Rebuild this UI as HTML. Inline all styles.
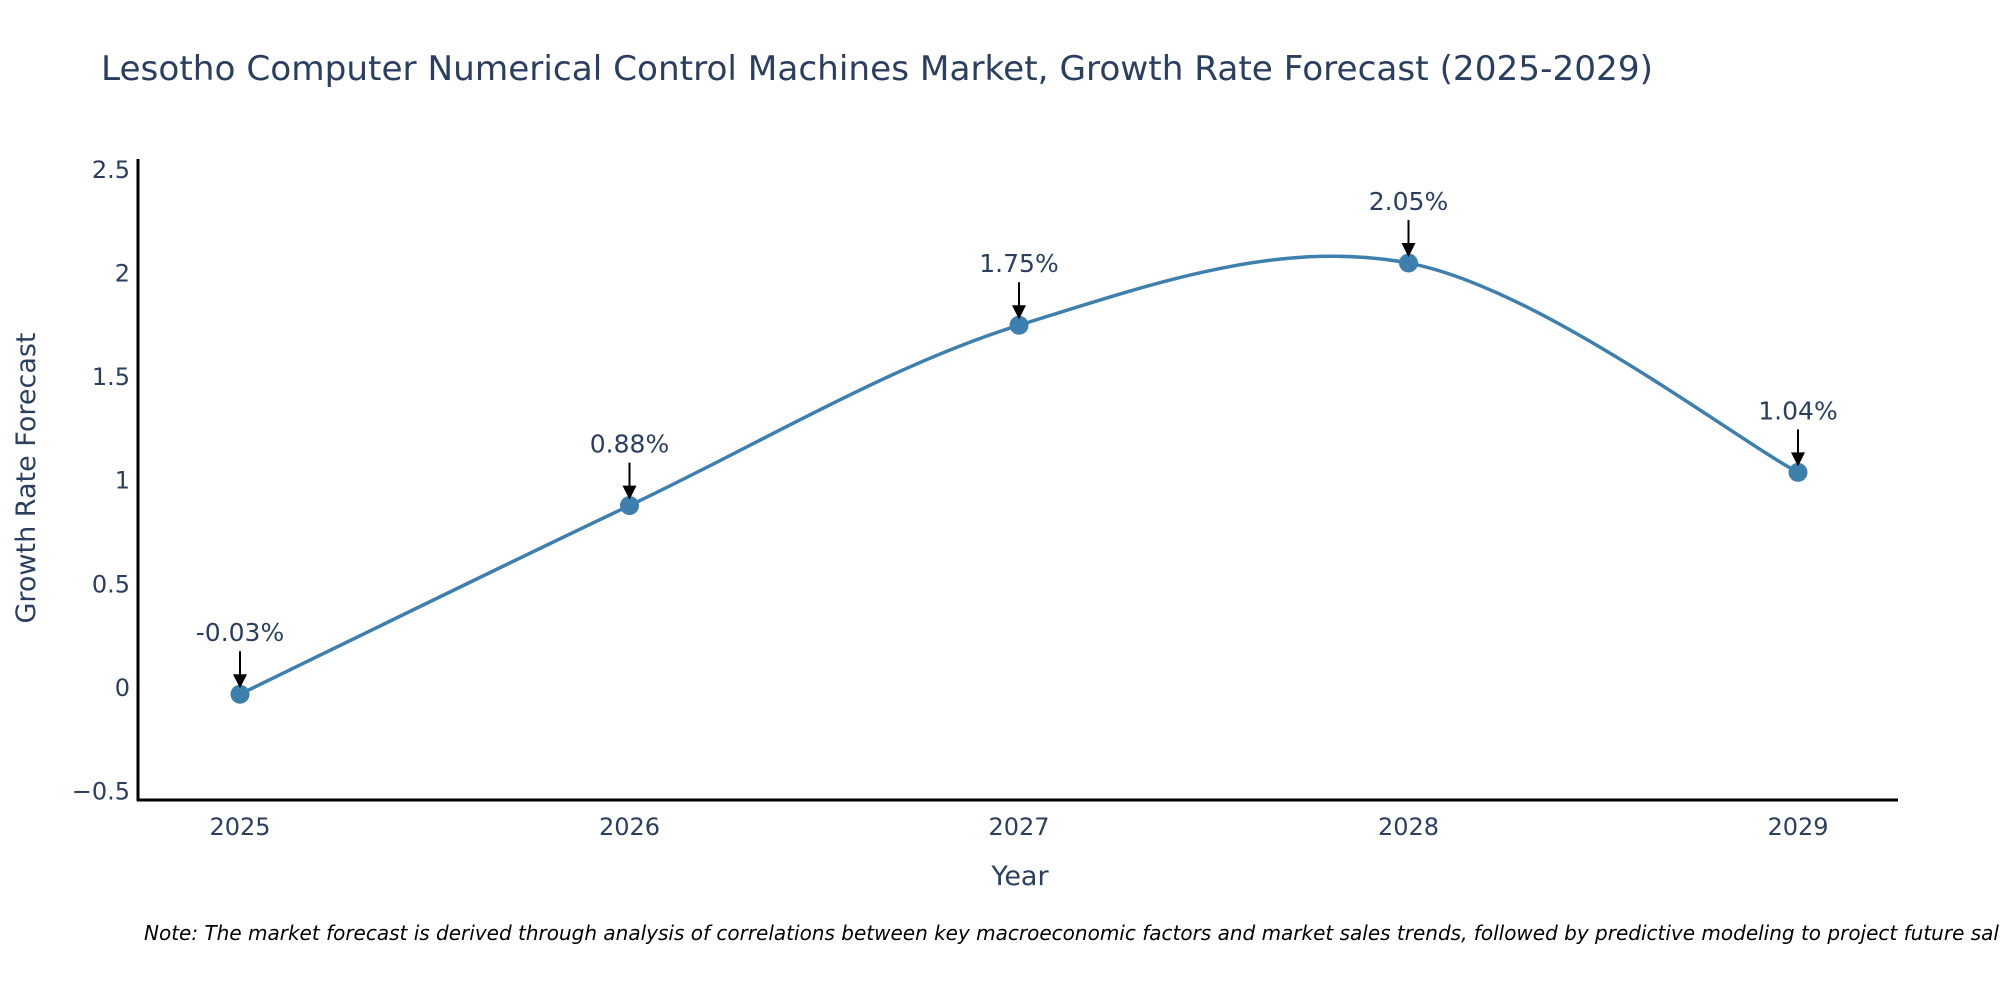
<!DOCTYPE html>
<html><head><meta charset="utf-8"><style>
html,body{margin:0;padding:0;background:#fff;}
svg{display:block;font-family:"DejaVu Sans","Liberation Sans",sans-serif;}
</style></head><body>
<svg id="chart" width="2000" height="1000" viewBox="0 0 2000 1000">
<text x="101" y="80" font-size="34" fill="#2a3f5f" textLength="1552" lengthAdjust="spacingAndGlyphs">Lesotho Computer Numerical Control Machines Market, Growth Rate Forecast (2025-2029)</text>
<g id="yticks"></g>
<g id="xticks"></g>
<line x1="138" y1="159" x2="138" y2="801" stroke="#000" stroke-width="3"/>
<line x1="137" y1="800" x2="1898" y2="800" stroke="#000" stroke-width="3"/>
<text x="1020" y="885" font-size="27" fill="#2a3f5f" text-anchor="middle">Year</text>
<text transform="translate(35,478) rotate(-90)" font-size="27" fill="#2a3f5f" text-anchor="middle">Growth Rate Forecast</text>
<g id="series"></g>
<text x="144" y="940" font-size="20" font-style="italic" fill="#000">Note: The market forecast is derived through analysis of correlations between key macroeconomic factors and market sales trends, followed by predictive modeling to project future sales.</text>
</svg>
<script>
const years = [2025, 2026, 2027, 2028, 2029];
const growth = [-0.03, 0.88, 1.75, 2.05, 1.04];
const labels = ["-0.03%", "0.88%", "1.75%", "2.05%", "1.04%"];
const yTickVals = [-0.5, 0, 0.5, 1, 1.5, 2, 2.5];
const yTickLabels = ["\u22120.5", "0", "0.5", "1", "1.5", "2", "2.5"];

const NS = "http://www.w3.org/2000/svg";
function xS(v){ return 240 + (v - 2025) * 389.5; }
function yS(v){ return 688 - v * 207.3; }
function mk(tag, attrs, parent){ const e = document.createElementNS(NS, tag); for (const k in attrs) e.setAttribute(k, attrs[k]); parent.appendChild(e); return e; }

const yt = document.getElementById('yticks');
yTickVals.forEach((v, i) => {
  const t = mk('text', {x: 130, y: yS(v) + 8, 'font-size': 24, fill: '#2a3f5f', 'text-anchor': 'end'}, yt);
  
  
  t.textContent = yTickLabels[i];
});
const xt = document.getElementById('xticks');
years.forEach(y => {
  const t = mk('text', {x: xS(y), y: 835, 'font-size': 24, fill: '#2a3f5f', 'text-anchor': 'middle'}, xt);
  
  
  t.textContent = String(y);
});

const g = document.getElementById('series');
const pts = years.map((y, i) => [xS(y), yS(growth[i])]);
let d = 'M' + pts[0][0] + ',' + pts[0][1];
for (let i = 0; i < pts.length - 1; i++) {
  const p0 = pts[Math.max(0, i - 1)], p1 = pts[i], p2 = pts[i + 1], p3 = pts[Math.min(pts.length - 1, i + 2)];
  const c1 = [p1[0] + (p2[0] - p0[0]) / 6, p1[1] + (p2[1] - p0[1]) / 6];
  const c2 = [p2[0] - (p3[0] - p1[0]) / 6, p2[1] - (p3[1] - p1[1]) / 6];
  d += ' C' + c1[0] + ',' + c1[1] + ' ' + c2[0] + ',' + c2[1] + ' ' + p2[0] + ',' + p2[1];
}
const line = mk('path', {d: d, fill: 'none', stroke: '#3d7fad', 'stroke-width': 3.5}, g);



pts.forEach((p, i) => {
  const c = mk('circle', {cx: p[0], cy: p[1], r: 9.5, fill: '#3d7fad'}, g);
  
  
  const a = mk('line', {x1: p[0], y1: p[1] - 43, x2: p[0], y2: p[1] - 18, stroke: '#000', 'stroke-width': 2}, g);
  
  
  const h = mk('path', {d: 'M' + (p[0] - 7) + ',' + (p[1] - 20) + ' L' + (p[0] + 7) + ',' + (p[1] - 20) + ' L' + p[0] + ',' + (p[1] - 6) + ' Z', fill: '#000'}, g);
  
  
  const t = mk('text', {x: p[0], y: p[1] - 53, 'font-size': 25, fill: '#2a3f5f', 'text-anchor': 'middle'}, g);
  
  
  t.textContent = labels[i];
});
</script>
</body></html>
